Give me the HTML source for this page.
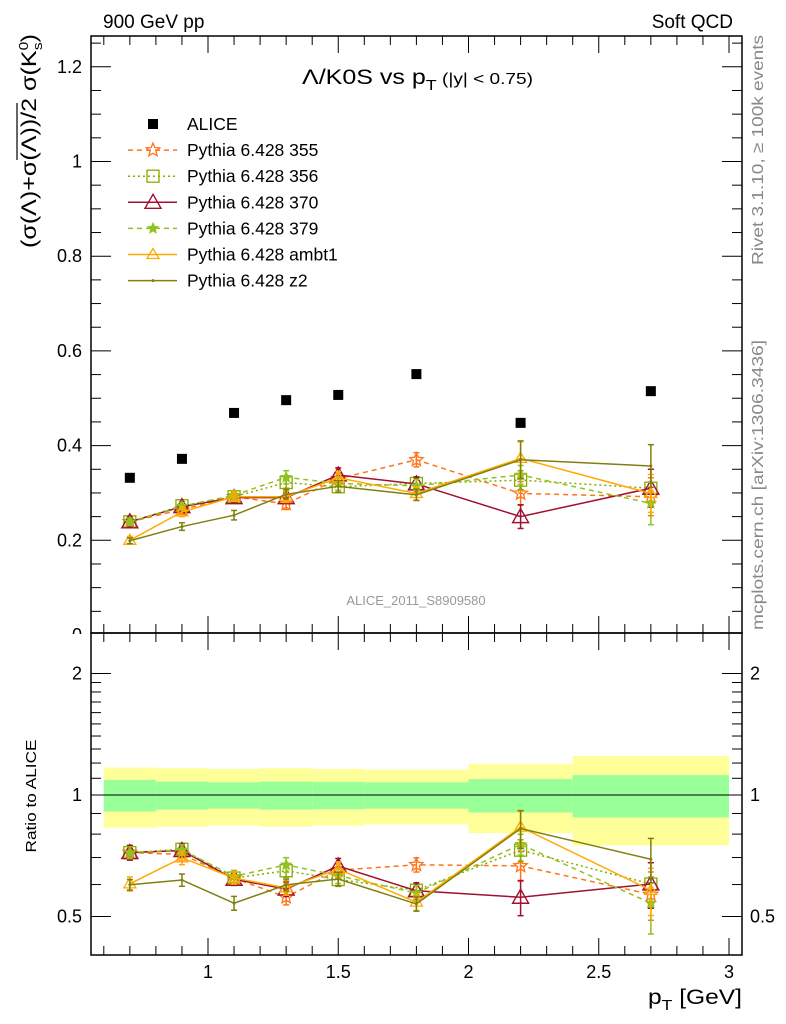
<!DOCTYPE html>
<html><head><meta charset="utf-8"><style>
body{margin:0;background:#fff;}
svg{display:block;font-family:"Liberation Sans",sans-serif;}
</style></head><body>
<svg id="c" width="786" height="1024" viewBox="0 0 786 1024" xmlns="http://www.w3.org/2000/svg"></svg>
<script>
const xValues=[0.7,0.9,1.1,1.3,1.5,1.8,2.2,2.7];
const binEdges=[0.6,0.8,1.0,1.2,1.4,1.6,2.0,2.4,3.0];
const aliceValues=[0.332,0.372,0.469,0.496,0.507,0.551,0.448,0.515];
const statErr=[0.09,0.08,0.075,0.08,0.078,0.075,0.095,0.12];
const totErr=[0.17,0.165,0.16,0.165,0.16,0.155,0.195,0.25];
const s355=[0.239,0.265,0.292,0.277,0.330,0.370,0.299,0.292];
const s356=[0.239,0.273,0.292,0.322,0.313,0.320,0.327,0.310];
const s370=[0.239,0.271,0.290,0.290,0.338,0.319,0.250,0.310];
const s379=[0.239,0.272,0.295,0.333,0.320,0.315,0.338,0.278];
const sambt1=[0.200,0.260,0.292,0.292,0.332,0.299,0.373,0.299];
const sz2=[0.199,0.229,0.253,0.297,0.314,0.296,0.370,0.357];
const e355=[0.01,0.01,0.01,0.012,0.012,0.015,0.025,0.04];
const e356=[0.008,0.008,0.01,0.012,0.012,0.012,0.02,0.04];
const e370=[0.01,0.01,0.01,0.012,0.015,0.015,0.025,0.04];
const e379=[0.008,0.008,0.01,0.014,0.014,0.014,0.02,0.045];
const eambt1=[0.008,0.01,0.01,0.012,0.014,0.014,0.035,0.04];
const ez2=[0.006,0.008,0.01,0.01,0.012,0.012,0.04,0.045];

const svg=document.getElementById('c');
const NS='http://www.w3.org/2000/svg';
function mk(tag,attrs,parent){const e=document.createElementNS(NS,tag);for(const k in attrs)e.setAttribute(k,attrs[k]);(parent||svg).appendChild(e);return e;}
const L=91,R=742,T=36,MB=633,RB=955;
const X=v=>208+(v-1)*260.5;
const Y=v=>635-v*473.5;
const YR=v=>795-121.5*Math.log2(v);

const bands=mk('g',{});


for(let i=0;i<xValues.length;i++){
  const x0=X(binEdges[i]),x1=X(binEdges[i+1]);
  mk('rect',{x:x0,y:YR(1+totErr[i]),width:x1-x0,height:YR(1-totErr[i])-YR(1+totErr[i]),fill:'#ffff99'},bands);
  mk('rect',{x:x0,y:YR(1+statErr[i]),width:x1-x0,height:YR(1-statErr[i])-YR(1+statErr[i]),fill:'#99ff99'},bands);
}
const one=mk('line',{x1:L,x2:R,y1:YR(1),y2:YR(1),stroke:'#000','stroke-width':1});



function txt(s,x,y,attrs,name){const t=mk('text',Object.assign({x:x,y:y,'font-size':18,fill:'#000'},attrs||{}));t.textContent=s;return t;}
const mainTicks=['0','0.2','0.4','0.6','0.8','1','1.2'];
mainTicks.forEach((s,i)=>txt(s,82,Y(i*0.2)+6,{'text-anchor':'end'},'y-tick-label'));

const cov=mk('rect',{x:60,y:MB+1,width:28,height:10,fill:'#fff'});



const f1=mk('rect',{x:L,y:T,width:R-L,height:MB-T,fill:'none',stroke:'#000','stroke-width':1.5});


const f2=mk('rect',{x:L,y:MB,width:R-L,height:RB-MB,fill:'none',stroke:'#000','stroke-width':1.5});



const ticks=mk('g',{stroke:'#000','stroke-width':1});


for(let k=6;k<=30;k++){
  const v=k/10,x=X(v);if(x<L||x>R)continue;
  const maj=k%5==0,len=maj?17:9;
  mk('line',{x1:x,x2:x,y1:T,y2:T+len},ticks);
  mk('line',{x1:x,x2:x,y1:MB,y2:MB-len},ticks);
  mk('line',{x1:x,x2:x,y1:MB,y2:MB+len},ticks);
  mk('line',{x1:x,x2:x,y1:RB,y2:RB-len},ticks);
}
for(let k=0;k<=25;k++){
  const v=k*0.05,y=Y(v);if(y<T||y>MB)continue;
  const maj=k%4==0,len=maj?20:10;
  mk('line',{x1:L,x2:L+len,y1:y,y2:y},ticks);
  mk('line',{x1:R,x2:R-len,y1:y,y2:y},ticks);
}
const rt=[0.5,0.6,0.7,0.8,0.9,1,1.1,1.2,1.3,1.4,1.5,1.6,1.7,1.8,1.9,2];
rt.forEach(v=>{const y=YR(v);const maj=(v==0.5||v==1||v==2);const len=maj?20:10;
  mk('line',{x1:L,x2:L+len,y1:y,y2:y},ticks);mk('line',{x1:R,x2:R-len,y1:y,y2:y},ticks);});

const ratioTicks=['0.5','1','2'];
ratioTicks.forEach(s=>{txt(s,82,YR(+s)+6,{'text-anchor':'end'},'ratio-y-tick-label');txt(s,750,YR(+s)+6,{'text-anchor':'start'},'ratio-y-tick-label-right');});
const xTicks=['1','1.5','2','2.5','3'];
xTicks.forEach(s=>txt(s,X(+s),978,{'text-anchor':'middle'},'x-tick-label'));

txt('900 GeV pp',103,28,{'font-size':19},'energy-label');
txt('Soft QCD',733,28,{'font-size':19,'text-anchor':'end'},'process-label');
const tt=txt('Λ/K0S vs p',302,84,{'font-size':21,textLength:231,lengthAdjust:'spacingAndGlyphs'},'plot-title');
const ts=mk('tspan',{'font-size':15,dy:6});ts.textContent='T';tt.appendChild(ts);
const ts2=mk('tspan',{'font-size':16,dy:-6});ts2.textContent=' (|y| < 0.75)';tt.appendChild(ts2);
txt('ALICE_2011_S8909580',416,605,{'font-size':13,fill:'#999','text-anchor':'middle'},'analysis-watermark');
txt('Rivet 3.1.10, ≥ 100k events',763,150,{'font-size':16,fill:'#888','text-anchor':'middle',textLength:230,lengthAdjust:'spacingAndGlyphs',transform:'rotate(-90 763 150)'},'rivet-label');
txt('mcplots.cern.ch [arXiv:1306.3436]',763,485,{'font-size':16,fill:'#888','text-anchor':'middle',textLength:290,lengthAdjust:'spacingAndGlyphs',transform:'rotate(-90 763 485)'},'mcplots-label');
const yt=mk('text',{x:36,y:141,'font-size':21,'text-anchor':'middle',textLength:214,lengthAdjust:'spacingAndGlyphs',transform:'rotate(-90 36 141)'});


yt.textContent='(σ(Λ)+σ(Λ))/2 σ(K';
const ys1=mk('tspan',{'font-size':13,dy:-8},yt);ys1.textContent='0';
const ys2=mk('tspan',{'font-size':13,dy:14,dx:-7},yt);ys2.textContent='s';
const ys3=mk('tspan',{'font-size':21,dy:-6},yt);ys3.textContent=')';
const ob=mk('line',{x1:17,x2:17,y1:103,y2:160,stroke:'#000','stroke-width':1.2});


txt('Ratio to ALICE',36,796,{'font-size':15,'text-anchor':'middle',textLength:113,lengthAdjust:'spacingAndGlyphs',transform:'rotate(-90 36 796)'},'ratio-y-axis-title');
const xt=txt('p',648,1004,{'font-size':21,textLength:94,lengthAdjust:'spacingAndGlyphs'},'x-axis-title');
const xs1=mk('tspan',{'font-size':15,dy:6});xs1.textContent='T';xt.appendChild(xs1);
const xs2=mk('tspan',{'font-size':21,dy:-6});xs2.textContent=' [GeV]';xt.appendChild(xs2);

function marker(g,type,x,y,col){
  if(type=='square')mk('rect',{x:x-5,y:y-5,width:10,height:10,fill:'#000'},g);
  else if(type=='osq')mk('rect',{x:x-6,y:y-6,width:12,height:12,fill:'none',stroke:col,'stroke-width':1.3},g);
  else if(type=='tri')mk('polygon',{points:`${x},${y-8} ${x-8},${y+6} ${x+8},${y+6}`,fill:'none',stroke:col,'stroke-width':1.4},g);
  else if(type=='stri')mk('polygon',{points:`${x},${y-6} ${x-6},${y+4} ${x+6},${y+4}`,fill:'none',stroke:col,'stroke-width':1.3},g);
  else if(type=='star'||type=='sstar'){const r=type=='star'?7:5;let p=[];for(let i=0;i<10;i++){const a=-Math.PI/2+i*Math.PI/5,rr=i%2?r*0.45:r;p.push((x+rr*Math.cos(a))+','+(y+rr*Math.sin(a)));}
    mk('polygon',{points:p.join(' '),fill:type=='star'?'none':col,stroke:col,'stroke-width':1.3},g);}
  else if(type=='dot')mk('circle',{cx:x,cy:y,r:1.5,fill:col},g);
}
const series=[
 {name:'series-355',label:'Pythia 6.428 355',v:s355,e:e355,col:'#ff7518',dash:'5,4',m:'star'},
 {name:'series-356',label:'Pythia 6.428 356',v:s356,e:e356,col:'#8aaa00',dash:'2,3',m:'osq'},
 {name:'series-370',label:'Pythia 6.428 370',v:s370,e:e370,col:'#a01030',dash:'',m:'tri'},
 {name:'series-379',label:'Pythia 6.428 379',v:s379,e:e379,col:'#8fc31f',dash:'5,4',m:'sstar'},
 {name:'series-ambt1',label:'Pythia 6.428 ambt1',v:sambt1,e:eambt1,col:'#ffaa00',dash:'',m:'stri'},
 {name:'series-z2',label:'Pythia 6.428 z2',v:sz2,e:ez2,col:'#808010',dash:'',m:'dot'}
];
series.forEach(s=>{
  const g=mk('g',{});
  
  
  [[Y,0],[YR,1]].forEach(([yf,r])=>{
    const vals=xValues.map((x,i)=>r?s.v[i]/aliceValues[i]:s.v[i]);
    const errs=xValues.map((x,i)=>r?s.e[i]/aliceValues[i]:s.e[i]);
    mk('polyline',{points:xValues.map((x,i)=>X(x)+','+yf(vals[i])).join(' '),fill:'none',stroke:s.col,'stroke-width':1.5,'stroke-dasharray':s.dash},g);
    xValues.forEach((x,i)=>{const px=X(x);const y1=yf(vals[i]+errs[i]),y2=yf(vals[i]-errs[i]);
      mk('line',{x1:px,x2:px,y1:y1,y2:y2,stroke:s.col,'stroke-width':1.5},g);
      mk('line',{x1:px-3,x2:px+3,y1:y1,y2:y1,stroke:s.col,'stroke-width':1.5},g);
      mk('line',{x1:px-3,x2:px+3,y1:y2,y2:y2,stroke:s.col,'stroke-width':1.5},g);
      marker(g,s.m,px,yf(vals[i]),s.col);});
  });
});
const ag=mk('g',{});


xValues.forEach((x,i)=>marker(ag,'square',X(x),Y(aliceValues[i]),'#000'));

const lg=mk('g',{});


const ly0=124,ldy=26.1;
marker(lg,'square',153,ly0,'#000');
txt('ALICE',187,ly0+6,{'font-size':17.5},'legend-entry-alice');
series.forEach((s,i)=>{const y=ly0+ldy*(i+1);
  mk('line',{x1:128,x2:177,y1:y,y2:y,stroke:s.col,'stroke-width':1.5,'stroke-dasharray':s.dash},lg);
  marker(lg,s.m,153,y,s.col);
  txt(s.label,187,y+6,{'font-size':17.5},'legend-entry');});
</script>
</body></html>
